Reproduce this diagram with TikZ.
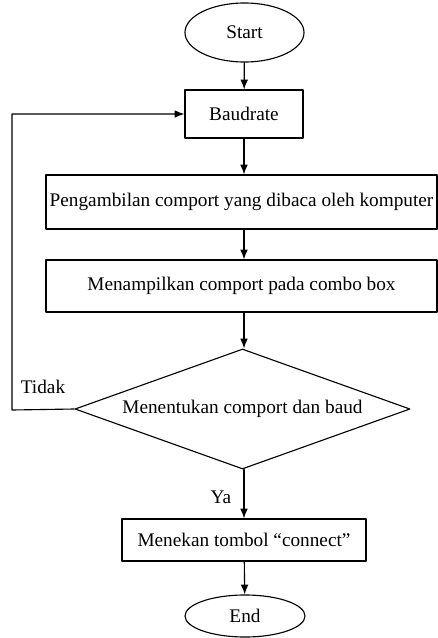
\documentclass[tikz,border=0pt]{standalone}
\usepackage{fontspec}
\setmainfont{Liberation Serif}
\usepackage{tikz}
\usetikzlibrary{shapes.geometric,arrows.meta}

\begin{document}
\begin{tikzpicture}
 [line cap=round,line join=round,x=0.025cm,y=-0.025cm,
 font=\fontsize{13.7}{16}\selectfont,
 terminal/.style={draw,ellipse,inner sep=0pt,line width=0.8pt},
 process/.style={draw,rectangle,inner sep=0pt,line width=0.8pt},
 decision/.style={draw,diamond,aspect=2.8,inner sep=0pt,line width=0.8pt},
 flow/.style={line width=0.8pt,-{Latex[length=7pt,width=5.5pt]}}]
\useasboundingbox (0,0) rectangle (438,638);

\node[terminal,minimum width=2.975cm,minimum height=1.475cm] (start) at (244.5,32.5) {Start};
\node[process,minimum width=2.95cm,minimum height=1.2cm] (baud) at (244,114) {Baudrate};
\node[process,minimum width=9.775cm,minimum height=1.35cm] (ambil) at (241.5,202) {Pengambilan comport yang dibaca oleh komputer};
\node[process,minimum width=9.775cm,minimum height=1.3cm] (tampil) at (241.5,286) {Menampilkan comport pada combo box};
\node[decision,minimum width=8.375cm,minimum height=3cm] (tentu) at (242.5,409) {Menentukan comport dan baud};
\node[process,minimum width=6.1cm,minimum height=1.05cm] (connect) at (244,540) {Menekan tombol ``connect''};
\node[terminal,minimum width=3cm,minimum height=1.05cm] (end) at (245,616) {End};

\node[anchor=center] (tidak) at (43,387) {Tidak};
\node[anchor=center] (ya) at (221,497) {Ya};
\coordinate (loop) at (12,410);

\draw[flow] (start) -- (baud);
\draw[flow] (baud) -- (baud |- ambil.north);
\draw[flow] (baud |- ambil.south) -- (baud |- tampil.north);
\draw[flow] (baud |- tampil.south) -- (baud |- tentu.north);
\draw[flow] (baud |- tentu.south) -- (connect);
\draw[flow] (connect) -- (end);
\draw[flow] (tentu.west) -- (loop) |- (baud.west);

\end{tikzpicture}
\end{document}
